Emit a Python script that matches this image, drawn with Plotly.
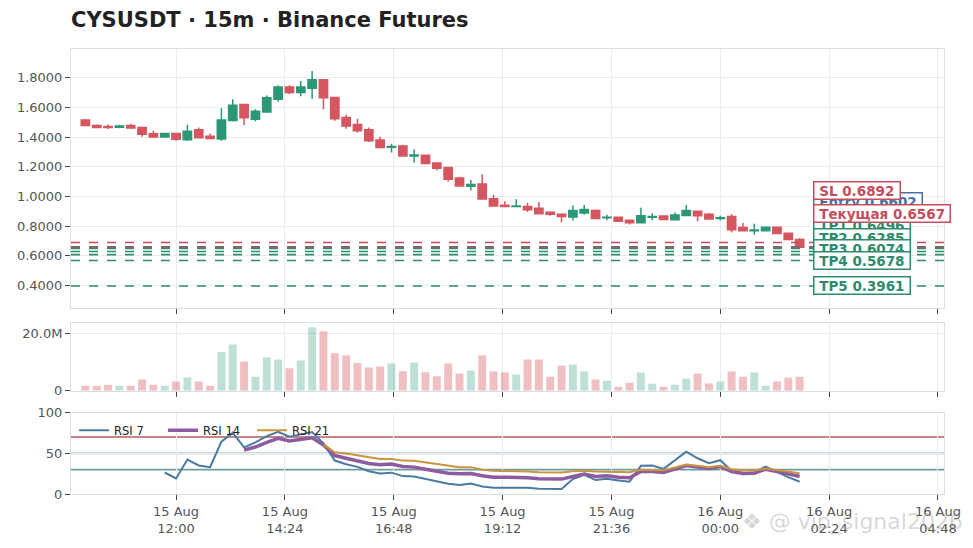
import pandas as pd
import plotly.graph_objects as go
from plotly.subplots import make_subplots

# 15m candles, 15 Aug 10:00 -> 16 Aug 01:45
times = pd.date_range("2025-08-15 10:00", periods=64, freq="15min")

opens = [1.515, 1.478, 1.472, 1.466, 1.478, 1.465, 1.423, 1.400, 1.425, 1.382, 1.450, 1.405, 1.387, 1.512, 1.620, 1.520,
         1.570, 1.655, 1.737, 1.700, 1.730, 1.787, 1.667, 1.532, 1.485, 1.450, 1.380, 1.332, 1.340, 1.273, 1.278, 1.226,
         1.195, 1.125, 1.068, 1.083, 0.985, 0.940, 0.932, 0.932, 0.920, 0.893, 0.880, 0.862, 0.888, 0.905, 0.856, 0.860,
         0.840, 0.823, 0.860, 0.868, 0.843, 0.872, 0.900, 0.880, 0.852, 0.864, 0.790, 0.768, 0.768, 0.793, 0.752, 0.710]
highs = [1.520, 1.485, 1.485, 1.483, 1.490, 1.468, 1.443, 1.427, 1.428, 1.483, 1.465, 1.425, 1.594, 1.655, 1.625, 1.588,
         1.680, 1.750, 1.750, 1.778, 1.845, 1.790, 1.670, 1.550, 1.523, 1.465, 1.403, 1.356, 1.348, 1.318, 1.280, 1.228,
         1.197, 1.133, 1.110, 1.150, 1.010, 0.967, 0.981, 0.958, 0.963, 0.900, 0.882, 0.941, 0.943, 0.914, 0.876, 0.862,
         0.842, 0.923, 0.887, 0.870, 0.891, 0.943, 0.903, 0.888, 0.870, 0.882, 0.820, 0.815, 0.795, 0.796, 0.753, 0.720]
lows = [1.475, 1.460, 1.455, 1.460, 1.460, 1.403, 1.395, 1.398, 1.375, 1.374, 1.390, 1.387, 1.375, 1.505, 1.480, 1.507,
        1.565, 1.638, 1.690, 1.675, 1.657, 1.586, 1.510, 1.456, 1.430, 1.367, 1.327, 1.297, 1.270, 1.229, 1.220, 1.177,
        1.099, 1.068, 1.040, 0.978, 0.934, 0.930, 0.930, 0.895, 0.880, 0.870, 0.825, 0.838, 0.876, 0.850, 0.840, 0.830,
        0.810, 0.818, 0.840, 0.843, 0.842, 0.868, 0.832, 0.846, 0.838, 0.757, 0.765, 0.742, 0.765, 0.748, 0.705, 0.652]
closes = [1.478, 1.465, 1.465, 1.474, 1.462, 1.420, 1.400, 1.425, 1.385, 1.440, 1.395, 1.390, 1.515, 1.615, 1.530, 1.575,
          1.665, 1.737, 1.700, 1.737, 1.787, 1.666, 1.523, 1.475, 1.443, 1.376, 1.330, 1.337, 1.273, 1.280, 1.222, 1.190,
          1.115, 1.070, 1.080, 0.982, 0.936, 0.932, 0.935, 0.910, 0.883, 0.879, 0.865, 0.905, 0.912, 0.852, 0.860, 0.833,
          0.822, 0.869, 0.865, 0.845, 0.875, 0.905, 0.870, 0.848, 0.857, 0.775, 0.768, 0.774, 0.793, 0.750, 0.710, 0.6567]

# volume, millions
volumes_m = [1.75, 1.75, 2.1, 1.75, 1.75, 3.86, 2.1, 1.75, 3.2, 4.56, 3.2, 1.75, 13.5, 16.1, 10.2, 4.9,
             11.6, 10.9, 7.8, 10.5, 22.1, 20.7, 13.0, 12.3, 9.6, 8.1, 8.4, 9.5, 6.8, 9.8, 6.4, 5.0,
             9.5, 6.0, 7.0, 12.3, 6.7, 6.3, 5.6, 10.9, 10.9, 4.9, 8.8, 9.1, 6.7, 3.86, 3.5, 1.4,
             2.8, 6.3, 2.46, 1.4, 2.1, 4.2, 6.0, 2.5, 3.2, 6.7, 4.9, 6.3, 1.75, 3.2, 4.5, 4.9]

rsi7 = [None] * 7 + [26.4, 19.1, 42.3, 35.0, 33.0, 64.2, 75.2, 57.3, 63.4, 71.1, 76.4, 70.3, 73.2, 76.0, 62.2, 41.1,
                     36.6, 33.3, 28.0, 25.2, 26.2, 22.0, 21.5, 18.3, 15.4, 12.6, 11.0, 13.0, 9.3, 7.7, 7.7, 8.1,
                     7.7, 6.5, 6.1, 6.1, 18.3, 23.6, 17.1, 18.7, 16.7, 15.0, 34.6, 35.0, 30.9, 41.9, 52.0, 43.9,
                     37.8, 41.5, 28.5, 25.6, 26.4, 33.7, 26.8, 20.7, 15.0]
rsi14 = [None] * 14 + [54.0, 57.7, 63.4, 68.3, 65.0, 67.0, 69.1, 60.2, 47.2, 43.9, 41.1, 37.4, 36.0, 36.8, 33.7, 33.0,
                       30.5, 28.5, 25.6, 24.8, 25.2, 22.4, 20.7, 20.7, 20.7, 19.9, 18.7, 18.3, 18.3, 21.5, 24.4, 21.5,
                       22.4, 20.7, 19.9, 27.6, 27.6, 26.4, 30.5, 35.0, 33.0, 31.3, 33.7, 27.6, 25.2, 25.6, 30.5, 28.0,
                       24.8, 21.5]
rsi21 = [None] * 21 + [61.0, 51.2, 49.6, 47.6, 44.7, 43.0, 43.0, 41.0, 40.7, 38.6, 37.0, 34.6, 33.0, 33.0, 29.7, 28.5,
                       28.5, 28.5, 27.6, 26.8, 26.4, 26.4, 28.0, 28.5, 27.6, 27.6, 27.2, 26.8, 29.7, 29.7, 29.3, 32.5,
                       36.2, 34.6, 33.0, 34.6, 30.5, 28.9, 28.9, 31.3, 29.7, 27.6, 25.6]

level_names = ["SL", "Entry", "Текущая", "TP1", "TP2", "TP3", "TP4", "TP5"]
level_prices = [0.6892, 0.6602, 0.6567, 0.6496, 0.6285, 0.6074, 0.5678, 0.3961]

rsi_levels = [70, 50, 30]
vol_ticks = [0, 20e6]
vol_ticktext = ["0", "20.0M"]

UP = "#2b9777"
DOWN = "#d6565f"
RED = "#c44e5c"
BLUE = "#4a6fa5"
GREEN = "#2e8b6e"
level_colors = {"SL": RED, "Entry": BLUE, "Текущая": RED}
rsi_level_colors = ["#c98585", "#98aebf", "#6f9c9c"]
GRID = "#e6ecf1"
FRAME = "#d6dee6"
FONT = "DejaVu Sans"

fig = make_subplots(rows=3, cols=1, shared_xaxes=True)

fig.add_trace(go.Candlestick(
    x=times, open=opens, high=highs, low=lows, close=closes,
    increasing=dict(line=dict(color=UP, width=1.5), fillcolor=UP),
    decreasing=dict(line=dict(color=DOWN, width=1.5), fillcolor=DOWN),
    showlegend=False, hoverinfo="skip"), row=1, col=1)

vol_colors = ["rgba(43,151,119,0.3)" if c >= o else "rgba(214,86,95,0.38)" for o, c in zip(opens, closes)]
fig.add_trace(go.Bar(x=times, y=[v * 1e6 for v in volumes_m], marker_color=vol_colors,
                     marker_line_width=0, showlegend=False), row=2, col=1)

fig.add_trace(go.Scatter(x=times, y=rsi7, mode="lines", name="RSI 7",
                         line=dict(color="#4a7aa0", width=2)), row=3, col=1)
fig.add_trace(go.Scatter(x=times, y=rsi14, mode="lines", name="RSI 14",
                         line=dict(color="#8d5ca0", width=3.5)), row=3, col=1)
fig.add_trace(go.Scatter(x=times, y=rsi21, mode="lines", name="RSI 21",
                         line=dict(color="#c9953e", width=2)), row=3, col=1)

# overbought / mid / oversold (after the traces, otherwise the subplot counts as empty)
for lvl, col in zip(rsi_levels, rsi_level_colors):
    fig.add_hline(y=lvl, line=dict(color=col, width=1.8), layer="below", row=3, col=1)

# level lines
for name, price in zip(level_names, level_prices):
    col = level_colors.get(name, GREEN)
    fig.add_hline(y=price, line=dict(color=col, width=1.6, dash="dash"), row=1, col=1)

# stacked labels, pushed up so they don't sit on top of each other
gap = 0.079
order = sorted(range(len(level_prices)), key=lambda i: level_prices[i])
label_y = {}
prev = None
for i in order:
    y = level_prices[i] if prev is None else max(level_prices[i], prev + gap)
    label_y[i] = y
    prev = y

draw_order = ["Entry", "SL", "TP1", "TP2", "TP3", "TP4", "TP5", "Текущая"]
for name in draw_order:
    i = level_names.index(name)
    col = level_colors.get(name, GREEN)
    fig.add_annotation(x=0.8505, xref="paper", xanchor="left", y=label_y[i], yref="y",
                       text=f"<b>&nbsp;{name} {level_prices[i]:.4f}&nbsp;</b>", showarrow=False,
                       font=dict(family=FONT, size=13.5, color=col),
                       bgcolor="white", bordercolor=col, borderwidth=1.5, borderpad=0)

fig.add_annotation(x=0.766, xref="paper", xanchor="left", y=-0.062, yref="paper", yanchor="middle",
                   text="❖ @ vip_signal2026", showarrow=False,
                   font=dict(family=FONT, size=22, color="rgba(140,140,140,0.35)"))

axis_common = dict(showgrid=True, gridcolor=GRID, showline=True, linecolor=FRAME, mirror=True,
                   ticks="outside", ticklen=5, tickcolor="#444", zeroline=False,
                   tickfont=dict(family=FONT, size=13, color="#555"))

fig.update_xaxes(**axis_common, range=["2025-08-15 09:41", "2025-08-16 04:56"],
                 tick0="2025-08-15 12:00", dtick=2.4 * 3600 * 1000,
                 tickformat="%d %b<br>%H:%M", rangeslider_visible=False)

fig.update_layout(
    width=973, height=548,
    margin=dict(l=71, r=26, t=49, b=49),
    paper_bgcolor="white", plot_bgcolor="white",
    font=dict(family=FONT, color="#333"),
    title=dict(text="<b>CYSUSDT · 15m · Binance Futures</b>", x=71 / 973, xanchor="left",
               y=1 - 20 / 548, yanchor="middle", font=dict(family=FONT, size=21, color="#222")),
    showlegend=True,
    legend=dict(orientation="h", x=0.0035, xanchor="left", y=0.176, yanchor="top",
                entrywidth=44, bgcolor="rgba(0,0,0,0)", font=dict(family=FONT, size=11.5, color="#222")),
    bargap=0.3,
    boxgap=0.27, boxgroupgap=0,
    yaxis=dict(domain=[0.4174, 1.0], range=[0.246, 1.994], tickformat=".4f", dtick=0.2, **axis_common),
    yaxis2=dict(domain=[0.2321, 0.3839], range=[0, 23.5e6], tickvals=vol_ticks, ticktext=vol_ticktext,
                **axis_common),
    yaxis3=dict(domain=[0.0, 0.183], range=[0, 100], tickvals=[0, 50, 100], **axis_common),
)

# page has a default 8px body margin; drop it so the figure sits at the window corner
fig.write_html("out.html", config={"displayModeBar": False},
               post_script="document.body.style.margin='0';")
